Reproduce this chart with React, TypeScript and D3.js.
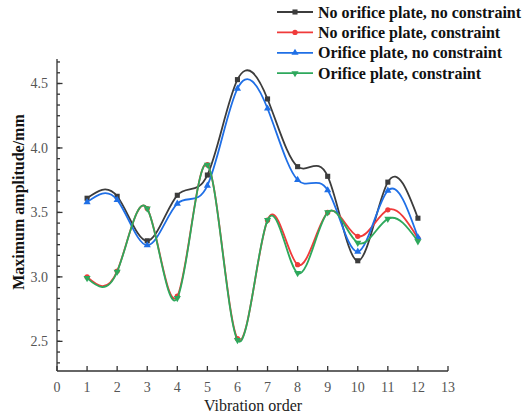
import React from "react";
import * as d3 from "d3";

const orders = [1, 2, 3, 4, 5, 6, 7, 8, 9, 10, 11, 12];
const noPlateNoConstraint = [3.61, 3.625, 3.28, 3.633, 3.79, 4.53, 4.38, 3.855, 3.78, 3.125, 3.735, 3.455];
const noPlateConstraint = [3.0, 3.045, 3.53, 2.85, 3.87, 2.52, 3.44, 3.095, 3.5, 3.315, 3.52, 3.3];
const plateNoConstraint = [3.58, 3.597, 3.245, 3.568, 3.708, 4.46, 4.306, 3.752, 3.672, 3.196, 3.669, 3.307];
const plateConstraint = [2.99, 3.04, 3.53, 2.835, 3.87, 2.51, 3.44, 3.03, 3.5, 3.264, 3.45, 3.276];
const xTicks = [0, 1, 2, 3, 4, 5, 6, 7, 8, 9, 10, 11, 12, 13];
const yTicks = [2.5, 3.0, 3.5, 4.0, 4.5];
const seriesNames = [
  "No orifice plate, no constraint",
  "No orifice plate, constraint",
  "Orifice plate, no constraint",
  "Orifice plate, constraint",
];

const seriesData = [noPlateNoConstraint, noPlateConstraint, plateNoConstraint, plateConstraint];
const colors = ["#3c3c3c", "#f03a3a", "#1f6fe6", "#2ea85c"];
const markers = ["square", "circle", "triangle", "triangleDown"];

const W = 527, H = 420;
const x = d3.scaleLinear().domain([0, 13]).range([57, 448]);
const y = d3.scaleLinear().domain([2.27, 4.69]).range([371, 59]);

function Marker({ kind, cx, cy, color }: { kind: string; cx: number; cy: number; color: string }) {
  const sym =
    kind === "square" ? d3.symbolSquare : kind === "circle" ? d3.symbolCircle : d3.symbolTriangle;
  const size = kind === "square" ? 26 : 22;
  const p = d3.symbol().type(sym).size(size)()!;
  const rot = kind === "triangleDown" ? 180 : 0;
  return <path d={p} transform={`translate(${cx},${cy}) rotate(${rot})`} fill={color} />;
}

const serif = "Liberation Serif, Times New Roman, serif";

export default function App() {
  const line = d3
    .line<number>()
    .x((_, i) => x(orders[i]))
    .y((d) => y(d))
    .curve(d3.curveNatural);

  const minorY: number[] = [];
  for (let v = 2.5 - 2 / 12; v <= 4.69; v += 0.5 / 6) {
    const r = Math.round(v * 1000) / 1000;
    if (r >= 2.27) minorY.push(r);
  }

  return (
    <svg width={W} height={H} style={{ position: "absolute", left: 0, top: 0, background: "#fff" }}>
      {seriesData.map((d, si) => (
        <g key={si}>
          <path d={line(d)!} fill="none" stroke={colors[si]} strokeWidth={1.8} />
          {d.map((v, i) => (
            <Marker key={i} kind={markers[si]} cx={x(orders[i])} cy={y(v)} color={colors[si]} />
          ))}
        </g>
      ))}

      <g stroke="#333" strokeWidth={1.3}>
        <line x1={x(0)} x2={x(0)} y1={y(4.69)} y2={y(2.27)} />
        <line x1={x(0)} x2={x(13)} y1={y(2.27)} y2={y(2.27)} />
        {xTicks.map((t) => (
          <line key={t} x1={x(t)} x2={x(t)} y1={y(2.27)} y2={y(2.27) - 5} />
        ))}
        {minorY.map((t) => (
          <line key={"m" + t} x1={x(0)} x2={x(0) + 3} y1={y(t)} y2={y(t)} />
        ))}
        {yTicks.map((t) => (
          <line key={t} x1={x(0)} x2={x(0) + 5.5} y1={y(t)} y2={y(t)} />
        ))}
      </g>

      <g style={{ fontFamily: serif, fontSize: "14px" }} fill="#555">
        {xTicks.map((t) => (
          <text key={t} x={x(t)} y={392} textAnchor="middle">
            {t}
          </text>
        ))}
        {yTicks.map((t) => (
          <text key={t} x={48} y={y(t) + 5} textAnchor="end">
            {t.toFixed(1)}
          </text>
        ))}
      </g>

      <text x={253} y={411} textAnchor="middle" style={{ fontFamily: serif, fontSize: "16px" }} fill="#222">
        Vibration order
      </text>
      <text
        transform={`translate(24,${202}) rotate(-90)`}
        textAnchor="middle"
        style={{ fontFamily: serif, fontSize: "16px", fontWeight: "bold" }}
        fill="#111"
      >
        Maximum amplitude/mm
      </text>

      {seriesNames.map((name, i) => {
        const ly = 12 + i * 20.4;
        return (
          <g key={name}>
            <line x1={277} x2={313} y1={ly} y2={ly} stroke={colors[i]} strokeWidth={1.8} />
            <Marker kind={markers[i]} cx={295} cy={ly} color={colors[i]} />
            <text x={318} y={ly + 5.5} style={{ fontFamily: serif, fontSize: "16px", fontWeight: "bold" }} fill="#111">
              {name}
            </text>
          </g>
        );
      })}
    </svg>
  );
}
